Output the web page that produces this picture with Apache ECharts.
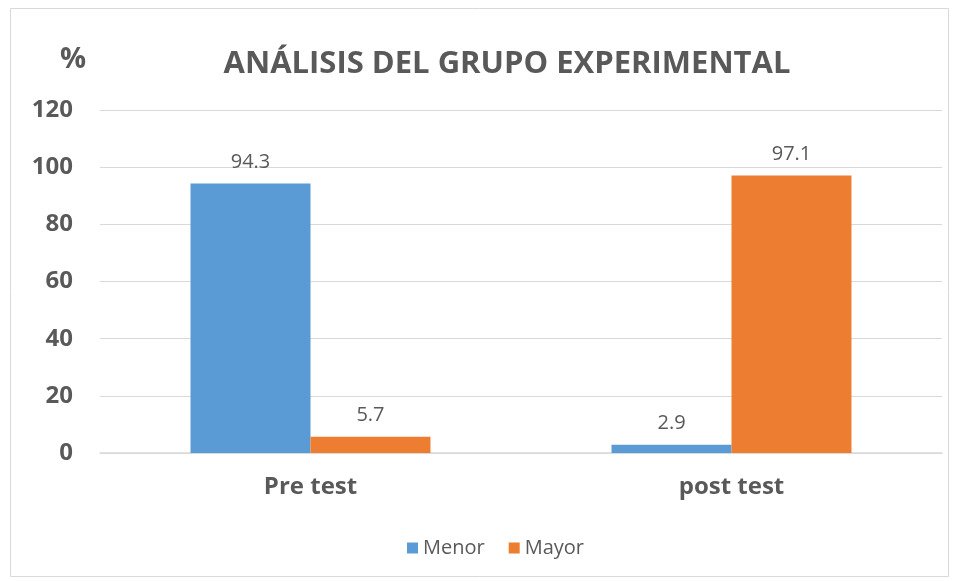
<!DOCTYPE html>
<html>
<head>
    <meta charset="UTF-8">
    <title>Análisis del grupo experimental</title>
    <script src="https://cdn.jsdelivr.net/npm/echarts@6/dist/echarts.min.js"></script>
</head>
<body style="margin:0">
<div id="chart" style="width: 958px; height: 581px;"></div>
<script>
    var categories = ['Pre test', 'post test'];
    var menor = [94.3, 2.9];
    var mayor = [5.7, 97.1];
    var yTicks = [0, 20, 40, 60, 80, 100, 120];

    var myChart = echarts.init(document.getElementById('chart'));
    var fontName = 'Open Sans';

    var option = {
        animation: false,
        backgroundColor: '#fff',
        graphic: [
            {
                type: 'rect',
                shape: { x: 10.5, y: 8.5, width: 938, height: 568 },
                style: { fill: 'none', stroke: '#d9d9d9', lineWidth: 1 }
            },
            {
                type: 'text',
                left: 60, top: 45,
                style: { text: '%', fontSize: 29, fontWeight: 'bold', fill: '#595959', fontFamily: fontName }
            }
        ],
        title: {
            text: 'ANÁLISIS DEL GRUPO EXPERIMENTAL',
            left: 502, top: 44, textAlign: 'center',
            textStyle: { fontSize: 31, fontWeight: 'bold', color: '#595959', fontFamily: fontName }
        },
        legend: {
            bottom: 18, left: 402,
            icon: 'rect', itemWidth: 11, itemHeight: 11, itemGap: 24,
            textStyle: { fontSize: 20, color: '#595959', fontFamily: fontName }
        },
        grid: { left: 100, right: 16, top: 110, bottom: 128 },
        xAxis: {
            type: 'category',
            data: categories,
            axisLine: { lineStyle: { color: '#d9d9d9', width: 1.5 } },
            axisTick: { show: false },
            axisLabel: { fontSize: 24, fontWeight: 'bold', color: '#595959', margin: 22, fontFamily: fontName }
        },
        yAxis: {
            type: 'value',
            min: yTicks[0], max: yTicks[yTicks.length - 1], interval: 20,
            axisLine: { show: false },
            axisTick: { show: false },
            splitLine: { lineStyle: { color: '#d9d9d9' } },
            axisLabel: { fontSize: 24, fontWeight: 'bold', color: '#595959', margin: 27, fontFamily: fontName }
        },
        series: [
            {
                name: 'Menor', type: 'bar', data: menor,
                barGap: 0, barCategoryGap: '43%',
                itemStyle: { color: '#5b9bd5' },
                label: { show: true, position: 'top', distance: 11, fontSize: 20, color: '#595959', fontFamily: fontName }
            },
            {
                name: 'Mayor', type: 'bar', data: mayor,
                barGap: 0, barCategoryGap: '43%',
                itemStyle: { color: '#ed7d31' },
                label: { show: true, position: 'top', distance: 11, fontSize: 20, color: '#595959', fontFamily: fontName }
            }
        ]
    };

    myChart.setOption(option);
</script>
</body>
</html>
